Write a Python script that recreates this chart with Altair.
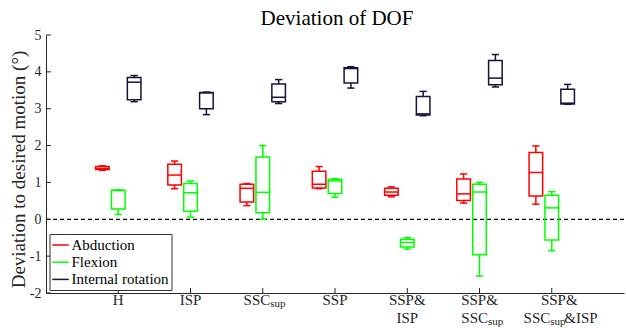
import altair as alt
import pandas as pd

title_text = "Deviation of DOF"
categories = ["H", "ISP", "SSC_sup", "SSP", "SSP&ISP", "SSP&SSC_sup", "SSP&SSC_sup&ISP"]
series = ["Abduction", "Flexion", "Internal rotation"]
colors = ["#ff0000", "#00ff00", "#14143c"]

# Box statistics (min, q1, median, q3, max) per category
abd_min = [1.33, 0.83, 0.37, 0.83, 0.61, 0.44, 0.41]
abd_q1 = [1.35, 0.93, 0.47, 0.85, 0.65, 0.51, 0.63]
abd_med = [1.38, 1.20, 0.84, 0.95, 0.74, 0.69, 1.27]
abd_q3 = [1.43, 1.49, 0.95, 1.30, 0.84, 1.09, 1.81]
abd_max = [1.45, 1.58, 0.97, 1.43, 0.88, 1.23, 1.99]

flx_min = [0.13, 0.06, 0.00, 0.60, -0.81, -1.54, -0.85]
flx_q1 = [0.28, 0.22, 0.18, 0.70, -0.75, -0.96, -0.56]
flx_med = [0.78, 0.72, 0.73, 1.04, -0.63, 0.74, 0.31]
flx_q3 = [0.79, 0.97, 1.69, 1.08, -0.54, 0.95, 0.65]
flx_max = [0.80, 1.04, 2.00, 1.10, -0.50, 1.00, 0.75]

rot_min = [3.19, 2.84, 3.14, 3.56, 2.81, 3.59, 3.12]
rot_q1 = [3.24, 3.00, 3.19, 3.70, 2.83, 3.65, 3.13]
rot_med = [3.72, 3.43, 3.31, 4.09, 2.86, 3.83, 3.15]
rot_q3 = [3.85, 3.44, 3.67, 4.11, 3.33, 4.31, 3.53]
rot_max = [3.90, 3.45, 3.79, 4.14, 3.47, 4.47, 3.66]

y_ticks = [-2, -1, 0, 1, 2, 3, 4, 5]

# tick label pieces: (category position, line, text, kind)
label_pieces = [
    (1, 1, "H", "c"),
    (2, 1, "ISP", "c"),
    (3, 1, "SSC", "r"), (3, 1, "sup", "s"),
    (4, 1, "SSP", "c"),
    (5, 1, "SSP&", "c"), (5, 2, "ISP", "c"),
    (6, 1, "SSP&", "c"), (6, 2, "SSC", "r"), (6, 2, "sup", "s"),
    (7, 1, "SSP&", "c"), (7, 2, "SSC", "r"), (7, 2, "sup", "s"), (7, 2, "&ISP", "l"),
]
# horizontal shift (px) of each piece from its tick
piece_dx = [0, 0, 7.5, 7.5, 0, 0, 0, 0, 8.5, 8.5, 7.5, -1.5, -1.5, 12.5]

stats = {
    "Abduction": (abd_min, abd_q1, abd_med, abd_q3, abd_max),
    "Flexion": (flx_min, flx_q1, flx_med, flx_q3, flx_max),
    "Internal rotation": (rot_min, rot_q1, rot_med, rot_q3, rot_max),
}
rows = []
for s in series:
    mn, q1, md, q3, mx = stats[s]
    for i, c in enumerate(categories):
        rows.append(dict(cat=c, idx=i + 1, series=s, lo=mn[i], q1=q1[i], med=md[i], q3=q3[i], hi=mx[i]))
df = pd.DataFrame(rows)

lab = pd.DataFrame(
    [dict(idx=p[0], line=p[1], text=p[2], kind=p[3], dx=d) for p, d in zip(label_pieces, piece_dx)]
)

W, H = 578, 258
PX = W / 8.0
FONT = "Liberation Serif"
AX = "#262626"

xs = alt.Scale(domain=[0, 8], nice=False, zero=False)
ys = alt.Scale(domain=[-2, 5], nice=False, zero=False)
xaxis = alt.Axis(labels=False, ticks=False, domain=True, grid=False, title=None,
                 domainColor=AX, domainWidth=1)
yaxis = alt.Axis(values=y_ticks, ticks=False, tickSize=0, labelPadding=5, grid=False,
                 domainColor=AX, domainWidth=1, labelFont=FONT, labelFontSize=14,
                 labelColor=AX, labelExpr="'' + datum.value",
                 title="Deviation to desired motion (°)", titleFont=FONT, titleFontSize=19,
                 titleFontWeight="normal", titleColor=AX, titleX=-28, titleY=134,
                 titleAngle=-90, titleAlign="center", titleBaseline="middle")


def X(f):
    return alt.X(f, type="quantitative", scale=xs, axis=xaxis)


def Y(f):
    return alt.Y(f, type="quantitative", scale=ys, axis=yaxis)


color_nolegend = alt.Color("series:N", scale=alt.Scale(domain=series, range=colors), legend=None)
color_legend = alt.Color(
    "series:N",
    scale=alt.Scale(domain=series, range=colors),
    legend=alt.Legend(title=None, orient="none", legendX=3.5, legendY=199,
                      symbolType="stroke", symbolSize=272, symbolStrokeWidth=1.5,
                      labelFont=FONT, labelFontSize=15, labelColor="black",
                      strokeColor="#333333", fillColor="white", padding=2,
                      rowPadding=0.2, labelOffset=2),
)

base = alt.Chart(df).transform_calculate(
    xc="datum.idx + (datum.series == 'Abduction' ? -0.22 : (datum.series == 'Flexion' ? 0 : 0.22))"
).transform_calculate(
    xl="datum.xc - 0.094", xr="datum.xc + 0.094",
    cl="datum.xc - 0.05", cr="datum.xc + 0.05",
)

SW = 1.5
zero_line = alt.Chart(pd.DataFrame({"z": [0]})).mark_rule(
    color="black", strokeDash=[4, 3], strokeWidth=1.2
).encode(y=Y("z"))

wh_lo = base.mark_rule(strokeWidth=SW).encode(x=X("xc"), y=Y("lo"), y2="q1", color=color_legend)
wh_hi = base.mark_rule(strokeWidth=SW).encode(x=X("xc"), y=Y("q3"), y2="hi", color=color_nolegend)
cap_lo = base.mark_rule(strokeWidth=SW).encode(x=X("cl"), x2="cr", y=Y("lo"), color=color_nolegend)
cap_hi = base.mark_rule(strokeWidth=SW).encode(x=X("cl"), x2="cr", y=Y("hi"), color=color_nolegend)
box = base.mark_rect(filled=False, strokeWidth=SW).encode(
    x=X("xl"), x2="xr", y=Y("q1"), y2="q3", color=color_nolegend)
med = base.mark_rule(strokeWidth=SW).encode(x=X("xl"), x2="xr", y=Y("med"), color=color_nolegend)

yt = alt.Chart(pd.DataFrame({"v": y_ticks})).mark_rule(color=AX).encode(
    x=alt.value(0), x2=alt.value(5), y=Y("v"))
xt = alt.Chart(pd.DataFrame({"idx": list(range(1, len(categories) + 1))})).mark_rule(color=AX).encode(
    x=X("idx"), y=alt.value(H), y2=alt.value(H - 5))

lab_base = alt.Chart(lab).transform_calculate(
    tx="datum.idx + datum.dx / %f" % PX,
    ty="(datum.line == 1 ? %d : %d) + (datum.kind == 's' ? 2 : 0)" % (H + 12, H + 30),
)


def lab_layer(kind, align, size):
    return lab_base.transform_filter("datum.kind == '%s'" % kind).mark_text(
        align=align, baseline="alphabetic", font=FONT, fontSize=size, color=AX
    ).encode(x=X("tx"), y=alt.Y("ty:Q", scale=None), text="text:N")


labels = (lab_layer("c", "center", 15) + lab_layer("r", "right", 15)
          + lab_layer("l", "left", 15) + lab_layer("s", "left", 11))

title = alt.Chart(pd.DataFrame({"t": [title_text]})).mark_text(
    font=FONT, fontSize=21, color="black", align="center", baseline="alphabetic"
).encode(x=alt.value(W / 2 + 2), y=alt.value(-10), text="t:N")

chart = alt.layer(
    zero_line, wh_lo, wh_hi, cap_lo, cap_hi, box, med, yt, xt, labels, title
).properties(
    width=W, height=H,
    padding={"left": 46, "top": 35, "right": 2, "bottom": 35},
    autosize=alt.AutoSizeParams(type="none"),
).configure(background="white", font=FONT).configure_view(stroke=None).configure_axis(
    labelFont=FONT, titleFont=FONT, labelFontSize=14, titleFontSize=19,
    titleFontWeight="normal", labelColor=AX, titleColor=AX
).configure_legend(labelFont=FONT, labelFontSize=15)

chart.save("out.html", embed_options={"renderer": "svg", "actions": False})
